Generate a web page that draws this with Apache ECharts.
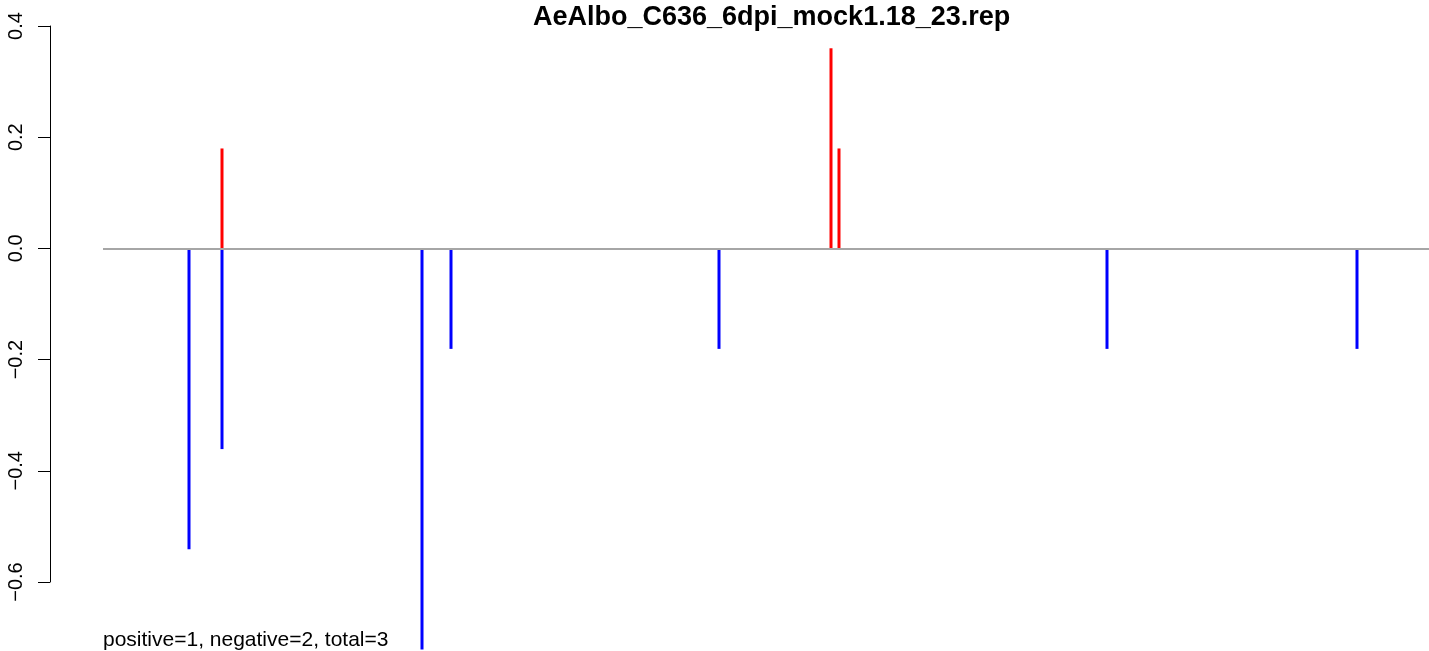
<!DOCTYPE html>
<html>
<head>
<meta charset="utf-8">
<script src="https://cdn.jsdelivr.net/npm/echarts@6/dist/echarts.min.js"></script>
<style>html,body{margin:0;padding:0;background:#fff;}#c{width:1429px;height:651px;}</style>
</head>
<body>
<div id="c"></div>
<script>
// positions (arbitrary units along the sequence) and values
const posPositions = [119, 728, 736];
const posValues = [0.18, 0.36, 0.18];
const negPositions = [86, 119, 319, 348, 616, 1004, 1254];
const negValues = [-0.54, -0.36, -0.72, -0.18, -0.18, -0.18, -0.18];
const yTicks = [-0.6, -0.4, -0.2, 0.0, 0.2, 0.4];
const titleText = 'AeAlbo_C636_6dpi_mock1.18_23.rep';
const footText = 'positive=1, negative=2, total=3';

const font = 'Liberation Sans, Arial, Helvetica, sans-serif';
const chart = echarts.init(document.getElementById('c'), null, {renderer: 'canvas'});
chart.setOption({
  animation: false,
  backgroundColor: '#fff',
  title: [
    {text: titleText, left: 528, top: -1,
     textStyle: {fontFamily: font, fontWeight: 'bold', fontSize: 27, color: '#000'}},
    {text: footText, left: 98, top: 625,
     textStyle: {fontFamily: font, fontWeight: 'normal', fontSize: 21, color: '#000'}}
  ],
  grid: [
    {left: 103, right: 0, top: 26, height: 623.5},
    {left: 50, width: 1, top: 26, height: 556}
  ],
  xAxis: [
    {type: 'value', gridIndex: 0, min: 0, max: 1326, show: false},
    {type: 'value', gridIndex: 1, show: false}
  ],
  yAxis: [
    {type: 'value', gridIndex: 0, min: -0.72, max: 0.4, show: false},
    {type: 'value', gridIndex: 1, min: yTicks[0], max: yTicks[yTicks.length - 1], interval: 0.2,
     splitLine: {show: false},
     axisLine: {show: true, lineStyle: {color: '#000', width: 1}},
     axisTick: {show: true, length: 12, lineStyle: {color: '#000', width: 1}},
     axisLabel: {rotate: 90, margin: 24, fontSize: 20, fontFamily: font, color: '#000',
       formatter: v => (v < 0 ? '\u2212' : '') + Math.abs(v).toFixed(1)}}
  ],
  series: [
    {type: 'bar', xAxisIndex: 0, yAxisIndex: 0, barWidth: 3, barGap: '-100%',
     itemStyle: {color: '#ff0000'},
     data: posPositions.map((p, i) => [p, posValues[i]]),
     markLine: {silent: true, symbol: 'none', label: {show: false},
       lineStyle: {color: '#a6a6a6', width: 2, type: 'solid'},
       data: [{yAxis: 0}]}},
    {type: 'bar', xAxisIndex: 0, yAxisIndex: 0, barWidth: 3, barGap: '-100%',
     itemStyle: {color: '#0000ff'},
     data: negPositions.map((p, i) => [p, negValues[i]])}
  ]
});
</script>
</body>
</html>
